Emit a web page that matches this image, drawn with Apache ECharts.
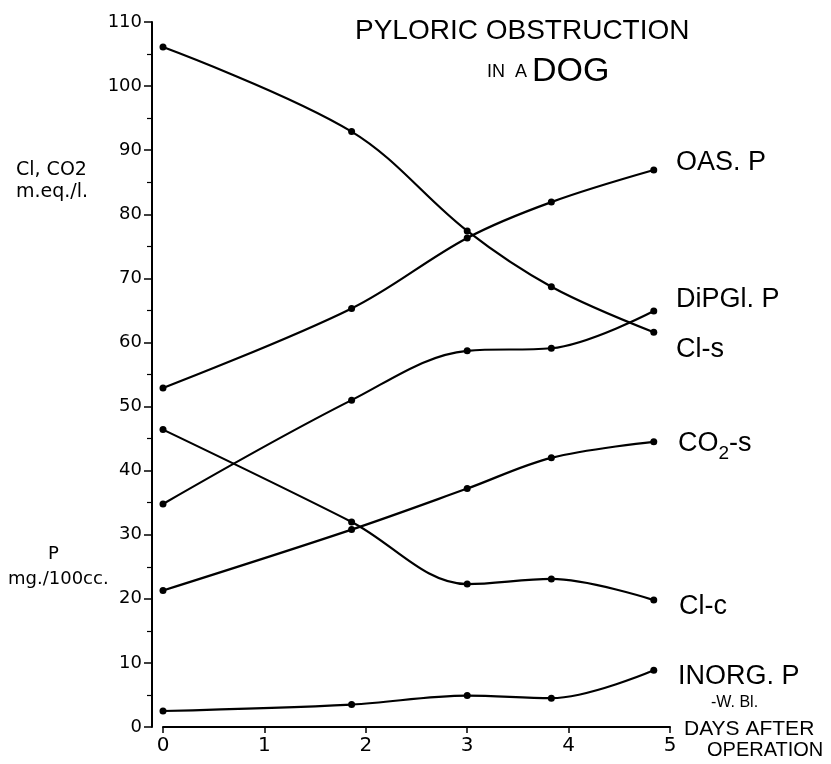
<!DOCTYPE html>
<html>
<head>
<meta charset="utf-8">
<title>Pyloric obstruction in a dog</title>
<script src="https://cdn.jsdelivr.net/npm/echarts@6/dist/echarts.min.js"></script>
<style>
  html, body { margin: 0; padding: 0; background: #fff; }
  #chart { width: 831px; height: 764px; }
</style>
</head>
<body>
<div id="chart"></div>
<script>
// days after operation (x positions of the measurements)
const days = [0, 1.86, 3.0, 3.83, 4.84]

// series values
const clS = [106.1, 92.9, 77.4, 68.7, 61.6]
const oasP = [52.9, 65.3, 76.3, 81.9, 86.9]
const dipglP = [34.8, 51.0, 58.7, 59.1, 64.9]
const clC = [46.4, 32.0, 22.3, 23.1, 19.8]
const co2S = [21.3, 30.8, 37.2, 42.0, 44.5]
const inorgP = [2.5, 3.5, 4.9, 4.5, 8.85]

const xTicks = [0, 1, 2, 3, 4, 5]
const yTicks = [0, 10, 20, 30, 40, 50, 60, 70, 80, 90, 100, 110]

const FONT = 'Liberation Sans'
const WIDE = 'DejaVu Sans'

function pairs(values) {
  return values.map((v, i) => [days[i], v])
}

function makeLine(name, values) {
  return {
    name: name,
    type: 'line',
    data: pairs(values),
    smooth: 0.35,
    symbol: 'circle',
    symbolSize: 7,
    itemStyle: { color: '#000' },
    lineStyle: { color: '#000', width: 2.2 }
  }
}

// plain text helper for the graphic layer
function label(text, left, top, size, family) {
  return {
    type: 'text',
    left: left,
    top: top,
    style: {
      text: text,
      fill: '#000',
      font: size + 'px "' + (family || FONT) + '"'
    }
  }
}

const chart = echarts.init(document.getElementById('chart'))

const options = {
  backgroundColor: '#fff',
  animation: false,
  grid: {
    left: 163,
    top: 22,
    width: 507,
    height: 705
  },
  xAxis: {
    type: 'value',
    min: xTicks[0],
    max: xTicks[xTicks.length - 1],
    interval: 1,
    axisLine: { show: true, lineStyle: { color: '#000', width: 2 } },
    axisTick: { show: true, length: 6, lineStyle: { color: '#000', width: 1.5 } },
    axisLabel: { color: '#000', fontSize: 20, fontFamily: WIDE, margin: 9 },
    splitLine: { show: false }
  },
  yAxis: {
    type: 'value',
    min: yTicks[0],
    max: yTicks[yTicks.length - 1],
    interval: 10,
    offset: 11, // axis line sits a little left of day 0
    axisLine: { show: true, onZero: false, lineStyle: { color: '#000', width: 2 } },
    axisTick: { show: true, length: 8, lineStyle: { color: '#000', width: 1.5 } },
    minorTick: { show: true, splitNumber: 2, length: 5, lineStyle: { color: '#000', width: 1.2 } },
    axisLabel: { color: '#000', fontSize: 18, fontFamily: WIDE, margin: 10 },
    splitLine: { show: false }
  },
  series: [
    makeLine('Cl-s', clS),
    makeLine('OAS. P', oasP),
    makeLine('DiPGl. P', dipglP),
    makeLine('Cl-c', clC),
    makeLine('CO2-s', co2S),
    makeLine('INORG. P', inorgP)
  ],
  graphic: [
    // title
    label('PYLORIC OBSTRUCTION', 355, 17, 28),
    {
      type: 'text',
      left: 487,
      top: 55,
      style: {
        rich: {
          s: { fontSize: 18, fontFamily: FONT, fill: '#000' },
          b: { fontSize: 34, fontFamily: FONT, fill: '#000' }
        },
        text: '{s|IN  A }{b|DOG}'
      }
    },
    // y axis titles
    label('Cl, CO2', 16, 161, 19, WIDE),
    label('m.eq./l.', 16, 183, 19, WIDE),
    label('P', 48, 545, 18, WIDE),
    label('mg./100cc.', 8, 570, 18, WIDE),
    // series labels on the right
    label('OAS. P', 676, 149, 27),
    label('DiPGl. P', 676, 286, 27),
    label('Cl-s', 676, 336, 27),
    {
      type: 'text',
      left: 678,
      top: 430,
      style: {
        rich: {
          a: { fontSize: 27, fontFamily: FONT, fill: '#000', verticalAlign: 'bottom' },
          sub: { fontSize: 19, fontFamily: FONT, fill: '#000', verticalAlign: 'bottom', padding: [0, 0, -6, 0] }
        },
        text: '{a|CO}{sub|2}{a|-s}'
      }
    },
    label('Cl-c', 679, 593, 27),
    label('INORG. P', 678, 663, 27),
    label('-W. Bl.', 711, 695, 16),
    label('DAYS AFTER', 684, 719, 21),
    label('OPERATION', 707, 740, 20)
  ]
}

chart.setOption(options)
</script>
</body>
</html>
